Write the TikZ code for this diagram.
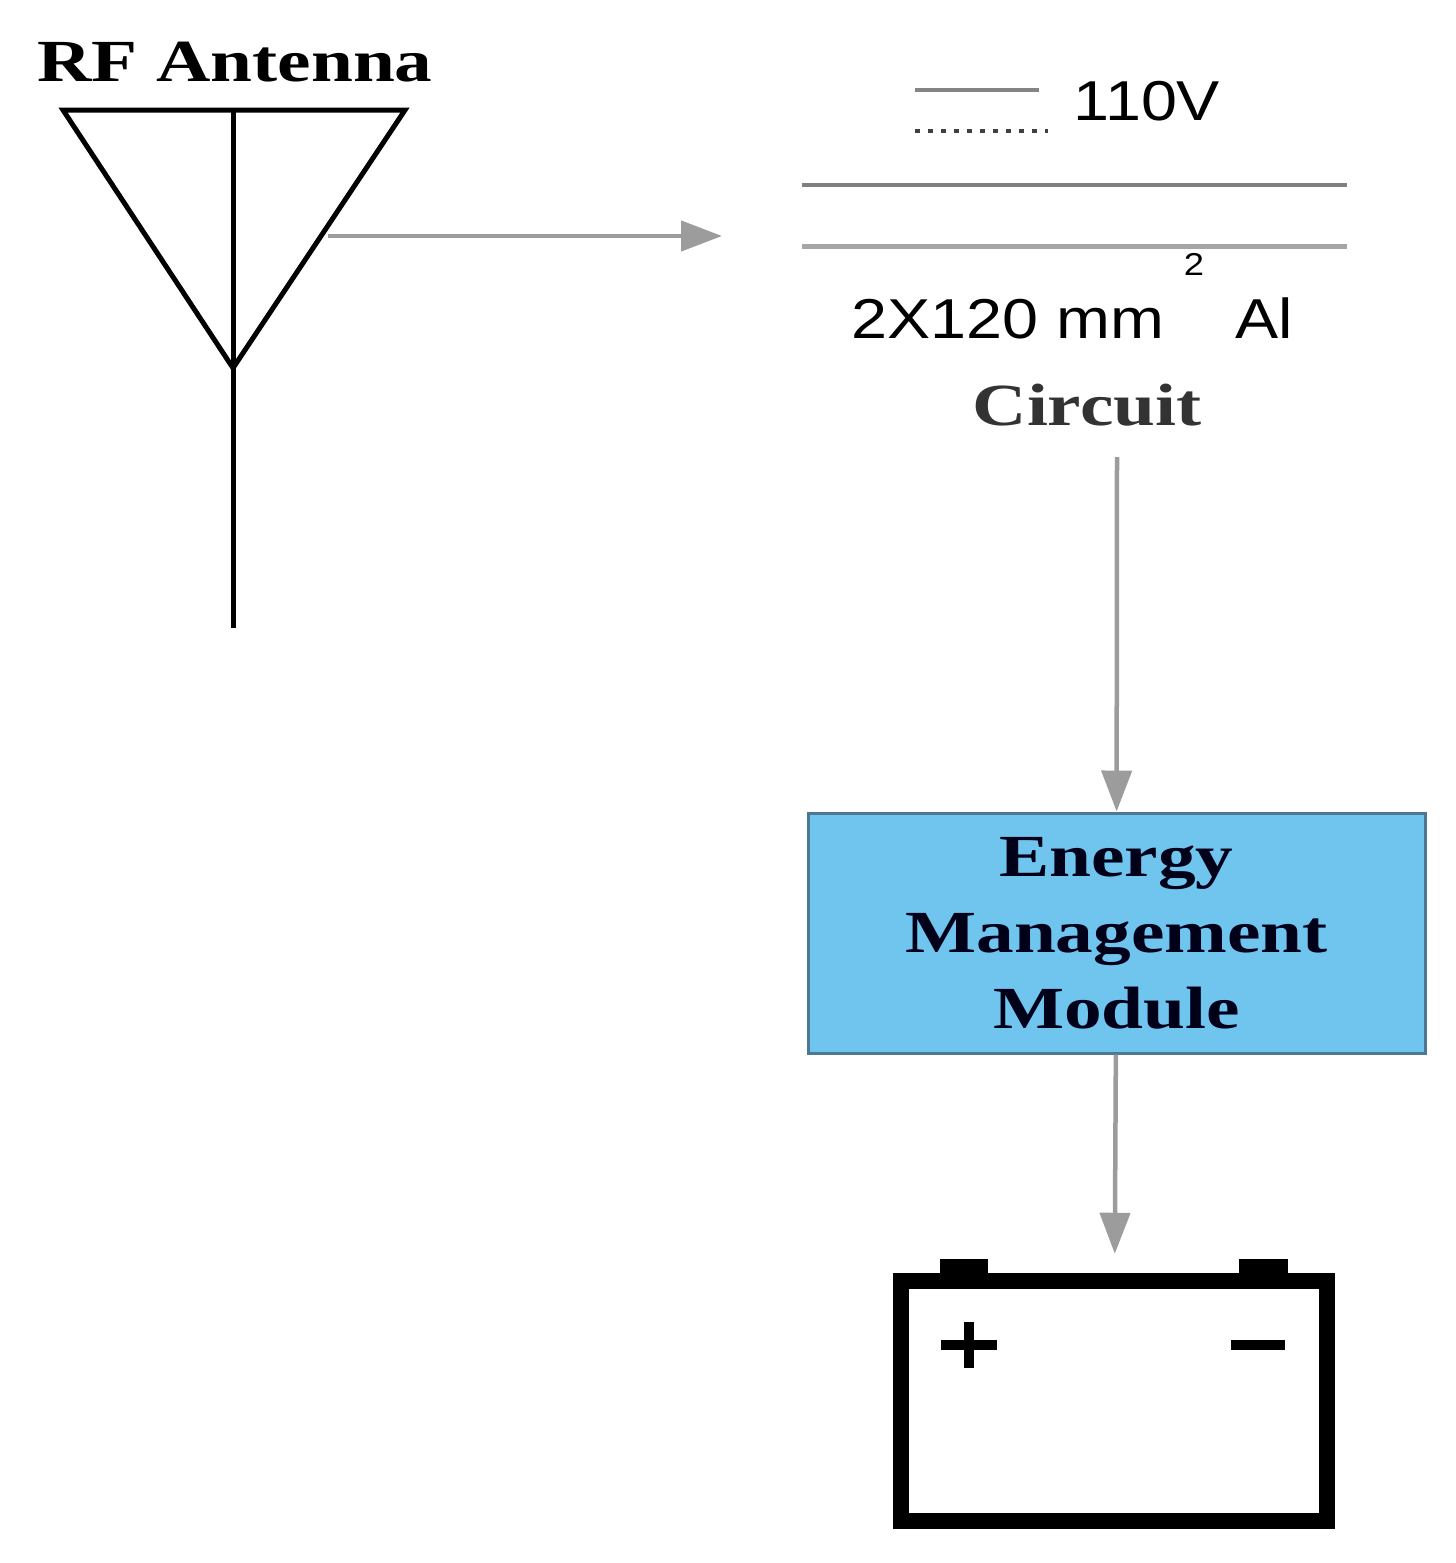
\documentclass[tikz,border=0pt]{standalone}
\usepackage{fontspec}
\setmainfont{Liberation Serif}[FakeStretch=1.26]
\newfontfamily\labelsans{Liberation Sans}[FakeStretch=1.15]
\usepackage{tikz}
\usetikzlibrary{positioning}
\usetikzlibrary{arrows.meta}
\definecolor{linkgray}{HTML}{9C9C9C}
\definecolor{boxblue}{HTML}{70C5EF}
\definecolor{boxedge}{HTML}{4E7891}
\tikzset{link/.style = {-{Triangle[length=4.1mm,width=3mm]}, draw=linkgray, line width=0.45mm}}

\begin{document}
\begin{tikzpicture}[x=0.1mm,y=-0.1mm,
    wire/.style={line width=0.5mm,black},
    title/.style={font=\fontsize{17}{21.6}\selectfont\bfseries},
    sans label/.style={font=\labelsans\fontsize{16}{19}\selectfont},
    module/.style={draw=boxedge,fill=boxblue,line width=0.3mm,minimum width=61.7mm,minimum height=24mm,align=center,
        font=\fontsize{17}{21.6}\selectfont\bfseries,text=black!90!blue},
    cell/.style={draw=black,line width=1.65mm,minimum width=42.6mm,minimum height=24mm},
    sign/.style={line width=1mm,black}]
    \useasboundingbox (0,0) rectangle (1455,1563);

    % antenna
    \node[title] (rf) at (235,62) {RF Antenna};
    \coordinate (tl) at (63,110);
    \coordinate (tr) at (405,110);
    \coordinate (top) at (233,110);
    \coordinate (tip) at (233,368);
    \coordinate (foot) at (233,628);
    \draw[wire,line join=miter] (tl) -- (tr) -- (tip) -- cycle;
    \draw[wire] (top) -- (foot);
    \coordinate (feed) at (328,236);
    \coordinate (aim) at (722,236);
    \draw[link] (feed) -- (aim);

    % legend
    \coordinate (s1) at (915,90);
    \coordinate (s2) at (1039,90);
    \coordinate (d1) at (915,131);
    \coordinate (d2) at (1048,131);
    \draw[linkgray!85!black,line width=0.4mm] (s1) -- (s2);
    \draw[black!75,line width=0.45mm,dash pattern=on 0.45mm off 0.85mm] (d1) -- (d2);
    \node[sans label] (volt) at (1147,101) {110V};

    % circuit lines
    \coordinate (wa1) at (802,185);
    \coordinate (wa2) at (1347,185);
    \coordinate (wb1) at (802,246);
    \coordinate (wb2) at (1347,246);
    \draw[black!50,line width=0.45mm] (wa1) -- (wa2);
    \draw[black!35,line width=0.5mm] (wb1) -- (wb2);
    \node[sans label,anchor=base] (cable) at (1072,338)
        {2X120 mm\hspace{0.35em}\raisebox{2.1ex}{\fontsize{9}{9}\selectfont 2}\hspace{0.55em}Al};
    \node[title,text=black!80] (circuit) at (1087,405) {Circuit};

    % module and battery
    \node[module] (box) at (1116.5,933) {Energy\\Management\\Module};
    \coordinate (cin) at (1117,457);
    \draw[link] (cin) -- (box);

    \fill (940,1259) rectangle (988,1278);
    \fill (1239,1259) rectangle (1288,1278);
    \node[cell] (battery) at (1114,1401) {};
    \draw[link,shorten >=1.9mm] (box) -- (battery);
    \draw[sign] (941,1345) -- (997,1345) (969,1322) -- (969,1368);
    \draw[sign] (1231,1345) -- (1285,1345);
\end{tikzpicture}
\end{document}
